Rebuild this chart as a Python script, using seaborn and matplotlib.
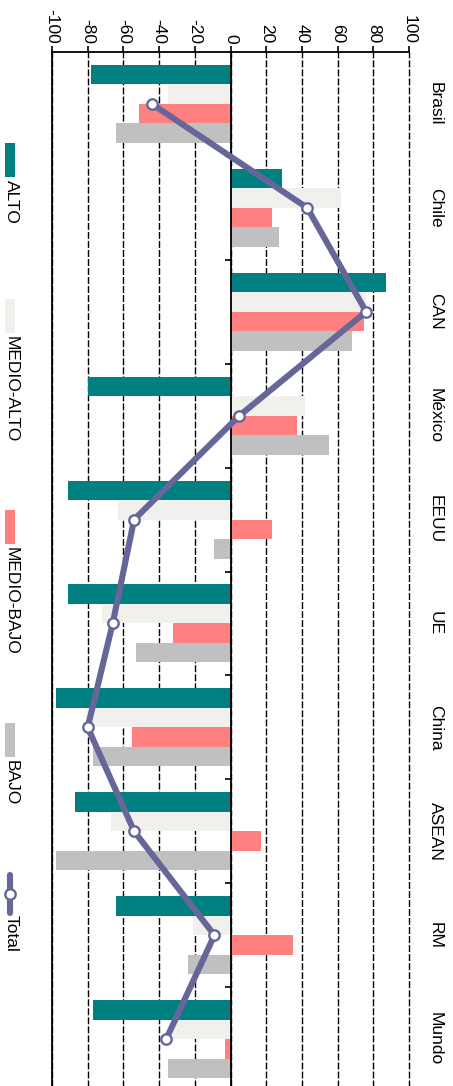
import numpy as np
import pandas as pd
import matplotlib
matplotlib.use("Agg")
import matplotlib.pyplot as plt
import seaborn as sns
from matplotlib.patches import Rectangle
from matplotlib.lines import Line2D

# ---- data ----
regiones = ["Brasil", "Chile", "CAN", "México", "EEUU", "UE", "China", "ASEAN", "RM", "Mundo"]
niveles = ["ALTO", "MEDIO-ALTO", "MEDIO-BAJO", "BAJO"]
alto = [-78, 29, 87, -80, -91, -91, -98, -87, -64, -77]
medio_alto = [-35, 62, 76, 42, -63, -72, -81, -67, -21, -32]
medio_bajo = [-51, 23, 75, 37, 23, -32, -55, 17, 35, -3]
bajo = [-64, 27, 68, 55, -9, -53, -77, -98, -24, -35]
total = [-44, 43, 76, 5, -54, -66, -80, -54, -9, -36]
valor_ticks = [-100, -80, -60, -40, -20, 0, 20, 40, 60, 80, 100]
valor_tick_labels = ["-100", "-80", "-60", "-40", "-20", "0", "20", "40", "60", "80", "100"]

colores = ["#008080", "#F2F0ED", "#FF8080", "#C0C0C0"]
color_total = "#666699"

df = pd.DataFrame({
    "region": regiones * 4,
    "nivel": sum([[n] * len(regiones) for n in niveles], []),
    "valor": alto + medio_alto + medio_bajo + bajo,
})

sns.set_style("white")
plt.rcParams["font.family"] = ["Liberation Sans", "DejaVu Sans"]
plt.rcParams["axes.unicode_minus"] = False

W, H = 453, 1086
fig = plt.figure(figsize=(W / 100, H / 100), dpi=100)
ax = fig.add_axes([52 / W, 1 - 1091 / H, 357 / W, 1039 / H])

sns.barplot(data=df, x="valor", y="region", hue="nivel", order=regiones,
            hue_order=niveles, palette=colores, orient="h", width=0.75,
            saturation=1, linewidth=0, legend=False, ax=ax, zorder=2)

sns.pointplot(x=total, y=regiones, order=regiones, orient="h", color=color_total,
              markers="o", linestyles="-", errorbar=None, ax=ax,
              linewidth=4.4, markersize=7.5, markerfacecolor="white",
              markeredgecolor=color_total, markeredgewidth=1.7)
for ln in ax.lines:
    ln.set_zorder(6)
    ln.set_solid_joinstyle("round")
    ln.set_solid_capstyle("round")

ax.set_xlim(-100, 100)
ax.set_ylim(len(regiones) - 0.5, -0.5)
ax.set_xlabel("")
ax.set_ylabel("")

# value axis on top
ax.xaxis.tick_top()
ax.set_xticks(valor_ticks)
ax.set_xticklabels(valor_tick_labels)
ax.tick_params(axis="x", direction="out", length=4, width=1.2, pad=2,
               labelsize=12.5, labelrotation=-90, colors="black")

# categories on the right
ax.yaxis.tick_right()
ax.tick_params(axis="y", length=0, pad=13.5, labelsize=12.5, labelrotation=-90,
               colors="black")
for lab in ax.get_yticklabels():
    lab.set_va("center")
    lab.set_ha("left")

for s in ["right", "bottom"]:
    ax.spines[s].set_visible(False)
for s in ["top", "left"]:
    ax.spines[s].set_visible(True)
    ax.spines[s].set_color("black")
    ax.spines[s].set_linewidth(1.3)

ax.set_axisbelow(True)
ax.grid(axis="x", color="black", linewidth=1.0, linestyle=(0, (5, 1.5)))
ax.grid(axis="y", visible=False)
for gl in ax.get_xgridlines():
    gl.set_clip_on(False)
ax.axvline(0, color="black", linewidth=1.3, zorder=3)
ax.hlines(np.arange(len(regiones) - 1) + 0.5, -3, 0, color="black",
          linewidth=1.2, zorder=3)

# ---- manual rotated legend ----
def fx(x):
    return x / W

def fy(y):
    return 1 - y / H

leg_start = [143, 299, 510, 723]
for start, nivel, col in zip(leg_start, niveles, colores):
    fig.add_artist(Rectangle((fx(5), fy(start + 34)), 10 / W, 34 / H,
                             transform=fig.transFigure, facecolor=col,
                             edgecolor="none"))
    fig.text(fx(11.5), fy(start + 37), nivel, rotation=-90, ha="center",
             va="top", fontsize=12.5, color="black")

t0 = 875
fig.add_artist(Line2D([fx(10), fx(10)], [fy(t0), fy(t0 + 38)],
                      transform=fig.transFigure, color=color_total,
                      linewidth=4.4, solid_capstyle="round"))
fig.add_artist(Line2D([fx(10)], [fy(t0 + 19)], transform=fig.transFigure,
                      marker="o", markersize=7.5, markerfacecolor="white",
                      markeredgecolor=color_total, markeredgewidth=1.7,
                      linestyle="none"))
fig.text(fx(11.5), fy(t0 + 40), "Total", rotation=-90, ha="center",
         va="top", fontsize=12.5, color="black")

fig.savefig("out.png", dpi=100)
